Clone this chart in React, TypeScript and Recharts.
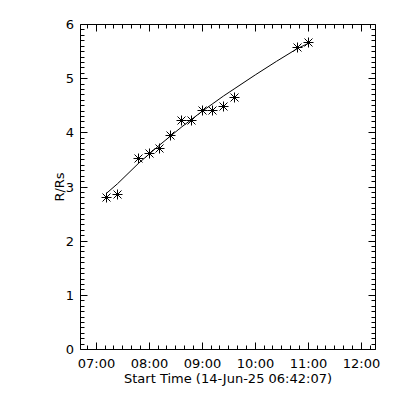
import { ComposedChart, Line, Scatter, XAxis, YAxis, ReferenceArea } from "recharts";

// observed heights (R/Rs) of the front, by image time
const obsTimes = ["07:12", "07:24", "07:48", "08:00", "08:12", "08:24", "08:36", "08:48", "09:00", "09:12", "09:24", "09:36", "10:48", "11:00"];
const obsHeights = [2.81, 2.87, 3.52, 3.62, 3.72, 3.96, 4.23, 4.23, 4.41, 4.41, 4.49, 4.66, 5.57, 5.66];

// fitted curve
const fitTimes = ["07:12", "07:24", "07:48", "08:00", "08:12", "08:24", "08:36", "08:48", "09:00", "09:12", "09:24", "09:36", "10:00", "10:24", "10:48", "11:00"];
const fitHeights = [2.89, 3.06, 3.44, 3.61, 3.78, 3.94, 4.10, 4.25, 4.40, 4.54, 4.68, 4.81, 5.07, 5.32, 5.56, 5.65];

const xTickHours = [7, 8, 9, 10, 11, 12];
const xTickLabels = ["07:00", "08:00", "09:00", "10:00", "11:00", "12:00"];
const yTickLabels = ["0", "1", "2", "3", "4", "5", "6"];

const startLabel = "Start Time (14-Jun-25 06:42:07)";
const xMin = 6 + 42 / 60 + 7 / 3600;
const xMax = 12.268;

const W = 400;
const H = 400;
const margin = { top: 24.5, right: 24.5, bottom: 20.5, left: 20.5 };
const TOP = margin.top;
const RIGHT = W - margin.right;
const FONT = "DejaVu Sans";

const toHours = (s: string) => {
    const [h, m] = s.split(":").map(Number);
    return h + m / 60;
};

const obsData = obsTimes.map((t, i) => ({ t: toHours(t), r: obsHeights[i] }));
const fitData = fitTimes.map((t, i) => ({ t: toHours(t), r: fitHeights[i] }));

// minor ticks every 10 min on x, every 0.1 on y
const xTicks: number[] = [];
for (let k = 41; k <= 73; k++) xTicks.push(k / 6);
const yTicks: number[] = [];
for (let k = 0; k <= 60; k++) yTicks.push(k / 10);

const crisp = (v: number) => Math.round(v - 0.5) + 0.5;

const XTick = (props: any) => {
    const { x, y, payload } = props;
    const k = Math.round(payload.value * 6);
    const major = k % 6 === 0;
    const px = crisp(x);
    const len = major ? 7 : 4;
    const idx = xTickHours.indexOf(k / 6);
    return (
        <g>
            <line x1={px} x2={px} y1={y} y2={y - len} stroke="#000" />
            <line x1={px} x2={px} y1={TOP} y2={TOP + len} stroke="#000" />
            {major && idx >= 0 && (
                <text x={px} y={y + 18.5} textAnchor="middle" fontFamily={FONT} fontSize={13} fill="#000">
                    {xTickLabels[idx]}
                </text>
            )}
        </g>
    );
};

const YTick = (props: any) => {
    const { x, y, payload } = props;
    const k = Math.round(payload.value * 10);
    const major = k % 10 === 0;
    const py = crisp(y);
    const len = major ? 7 : 4;
    return (
        <g>
            <line x1={x} x2={x + len} y1={py} y2={py} stroke="#000" />
            <line x1={RIGHT} x2={RIGHT - len} y1={py} y2={py} stroke="#000" />
            {major && (
                <text x={x - 6.5} y={py} dy="0.36em" textAnchor="end" fontFamily={FONT} fontSize={13} fill="#000">
                    {yTickLabels[k / 10]}
                </text>
            )}
        </g>
    );
};

const Star = (props: any) => {
    const cx = crisp(props.cx);
    const cy = crisp(props.cy);
    return (
        <g stroke="#000" strokeWidth={1}>
            <line x1={cx - 5} x2={cx + 5} y1={cy} y2={cy} />
            <line x1={cx} x2={cx} y1={cy - 5} y2={cy + 5} />
            <line x1={cx - 4} x2={cx + 4} y1={cy - 4} y2={cy + 4} />
            <line x1={cx - 4} x2={cx + 4} y1={cy + 4} y2={cy - 4} />
            <circle cx={cx} cy={cy} r={1.3} fill="#000" stroke="none" />
        </g>
    );
};

export default function App() {
    return (
        <div style={{ position: "absolute", left: 0, top: 0, background: "#fff" }}>
            <ComposedChart width={W} height={H} margin={margin}>
                <XAxis
                    type="number"
                    dataKey="t"
                    domain={[xMin, xMax]}
                    ticks={xTicks}
                    interval={0}
                    tick={XTick}
                    tickSize={0}
                    tickMargin={0}
                    tickLine={false}
                    axisLine={false}
                    height={30}
                    label={{
                        content: (p: any) => {
                            const { x, y, width } = p.viewBox;
                            return (
                                <text x={x + width / 2} y={y + 33.5} textAnchor="middle" fontFamily={FONT} fontSize={13} fill="#000">
                                    {startLabel}
                                </text>
                            );
                        },
                    }}
                />
                <YAxis
                    type="number"
                    dataKey="r"
                    domain={[0, 6]}
                    ticks={yTicks}
                    interval={0}
                    tick={YTick}
                    tickSize={0}
                    tickMargin={0}
                    tickLine={false}
                    axisLine={false}
                    width={60}
                    label={{
                        content: (p: any) => {
                            const { x, y, width, height } = p.viewBox;
                            const cx = x + width - 21;
                            const cy = y + height / 2;
                            return (
                                <text x={cx} y={cy} dy="0.36em" textAnchor="middle" transform={`rotate(-90, ${cx}, ${cy})`} fontFamily={FONT} fontSize={13} fill="#000">
                                    R/Rs
                                </text>
                            );
                        },
                    }}
                />
                <ReferenceArea x1={xMin} x2={xMax} y1={0} y2={6} fill="none" stroke="#000" strokeWidth={1} fillOpacity={0} />
                <Line data={fitData} dataKey="r" type="linear" stroke="#000" strokeWidth={1} dot={false} isAnimationActive={false} />
                <Scatter data={obsData} dataKey="r" shape={Star} isAnimationActive={false} />
            </ComposedChart>
        </div>
    );
}
